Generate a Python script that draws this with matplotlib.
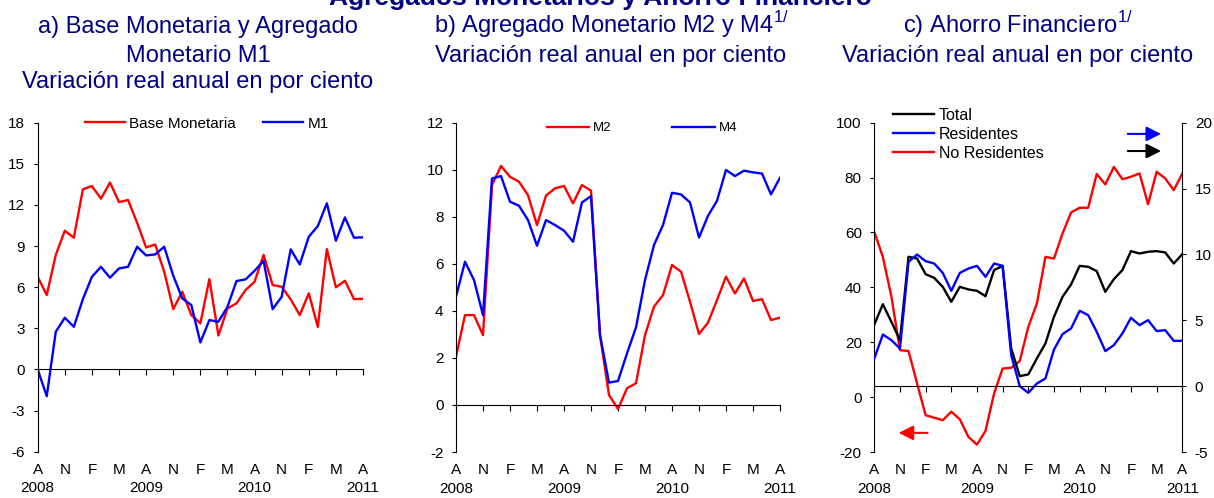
import matplotlib
matplotlib.use('Agg')
import matplotlib.pyplot as plt

plt.rcParams['font.family'] = 'Liberation Sans'
plt.rcParams['mathtext.fontset'] = 'custom'
plt.rcParams['mathtext.rm'] = 'Liberation Sans'
plt.rcParams['axes.unicode_minus'] = False

# meses: agosto 2008 - agosto 2011 (37 observaciones)
meses = ['A', 'N', 'F', 'M'] * 3 + ['A']
anios = {0: '2008', 4: '2009', 8: '2010', 12: '2011'}
etiquetas = [m + ('\n' + anios[i] if i in anios else '') for i, m in enumerate(meses)]

# a) Base monetaria y M1
base_monetaria = [6.76, 5.43, 8.35, 10.12, 9.61, 13.14, 13.38, 12.46, 13.63, 12.21,
                  12.36, 10.7, 8.9, 9.12, 7.13, 4.40, 5.67, 3.97, 3.36, 6.59,
                  2.48, 4.45, 4.82, 5.79, 6.40, 8.35, 6.16, 6.03, 5.11, 3.97,
                  5.55, 3.11, 8.78, 5.99, 6.47, 5.13, 5.16]
m1 = [0.0, -1.95, 2.75, 3.77, 3.11, 5.13, 6.76, 7.49, 6.69, 7.37,
      7.49, 8.95, 8.32, 8.39, 8.95, 6.84, 5.18, 4.70, 1.97, 3.60,
      3.48, 4.57, 6.45, 6.57, 7.20, 7.91, 4.40, 5.30, 8.76, 7.66,
      9.68, 10.46, 12.12, 9.39, 11.09, 9.61, 9.64]

# b) M2 y M4
m2 = [2.05, 3.82, 3.82, 2.97, 9.35, 10.16, 9.70, 9.49, 8.92, 7.65,
      8.90, 9.21, 9.31, 8.57, 9.35, 9.11, 2.97, 0.42, -0.17, 0.71,
      0.92, 2.97, 4.18, 4.67, 5.95, 5.67, 4.39, 3.02, 3.50, 4.46,
      5.45, 4.74, 5.38, 4.42, 4.50, 3.61, 3.71]
m4 = [4.60, 6.09, 5.31, 3.82, 9.63, 9.73, 8.64, 8.47, 7.86, 6.77,
      7.86, 7.65, 7.41, 6.94, 8.61, 8.88, 2.97, 0.95, 1.02, 2.19,
      3.30, 5.31, 6.80, 7.65, 9.02, 8.95, 8.61, 7.12, 8.04, 8.68,
      9.99, 9.73, 9.96, 9.89, 9.84, 8.95, 9.66]

# c) Ahorro financiero
total = [4.68, 6.22, 4.88, 3.49, 9.82, 9.69, 8.50, 8.22, 7.54, 6.40,
         7.54, 7.34, 7.24, 6.83, 8.81, 9.13, 2.86, 0.76, 0.89, 2.10,
         3.24, 5.26, 6.78, 7.72, 9.13, 9.06, 8.73, 7.16, 8.12, 8.81,
         10.25, 10.07, 10.20, 10.25, 10.15, 9.31, 10.02]
residentes = [2.10, 3.92, 3.49, 2.86, 9.44, 9.99, 9.49, 9.31, 8.60, 7.24,
              8.60, 8.93, 9.13, 8.30, 9.31, 9.13, 2.35, 0.0, -0.51, 0.20,
              0.58, 2.78, 3.95, 4.38, 5.72, 5.39, 4.12, 2.66, 3.11, 4.00,
              5.19, 4.63, 5.01, 4.18, 4.25, 3.44, 3.44]
no_residentes = [60.2, 51.1, 36.6, 17.1, 16.8, 5.0, -6.6, -7.5, -8.4, -5.3,
                 -8.1, -14.5, -17.3, -12.3, 1.3, 10.4, 10.7, 13.1, 25.6, 34.1,
                 51.1, 50.5, 59.6, 67.3, 69.0, 69.0, 81.3, 77.5, 83.9, 79.4,
                 80.3, 81.5, 70.3, 82.1, 79.7, 75.4, 81.5]

x = list(range(len(m1)))
ticks_x = list(range(0, 37, 3))
azul_titulo = '#000080'
lw = 1.7

W, H = 1214, 498
fig = plt.figure(figsize=(W / 100, H / 100), dpi=100)


def caja(x0, x1, y0, y1):
    return [x0 / W, 1 - y1 / H, (x1 - x0) / W, (y1 - y0) / H]


def etiquetas_x(ax):
    sec = ax.secondary_xaxis(0)
    sec.set_xticks(ticks_x, etiquetas)
    sec.tick_params(length=0, pad=8, labelsize=11)
    sec.spines['bottom'].set_visible(False)
    for t in sec.get_xticklabels():
        t.set_linespacing(1.4)


def formato(ax, ylim, yticks):
    ax.set_xlim(0, 36)
    ax.set_ylim(*ylim)
    ax.set_yticks(yticks)
    ax.spines['top'].set_visible(False)
    ax.spines['right'].set_visible(False)
    ax.spines['bottom'].set_position(('data', 0))
    ax.set_xticks(ticks_x)
    ax.tick_params(axis='x', direction='out', length=4, labelbottom=False)
    ax.tick_params(axis='y', direction='out', length=3, labelsize=11, pad=6)
    etiquetas_x(ax)


# panel a
ax1 = fig.add_axes(caja(37.7, 363, 122.7, 451.7))
ax1.plot(x, base_monetaria, color='red', lw=lw, label='Base Monetaria')
ax1.plot(x, m1, color='blue', lw=lw, label='M1')
formato(ax1, (-6, 18), range(-6, 19, 3))
ax1.legend(loc='center', bbox_to_anchor=(0.52, 0.997), ncol=2, frameon=False,
           fontsize=11, handlelength=2.6, columnspacing=1.8, handletextpad=0.3,
           borderpad=0)

# panel b
ax2 = fig.add_axes(caja(456, 780, 122.7, 452))
ax2.plot(x, m2, color='red', lw=lw, label='M2')
ax2.plot(x, m4, color='blue', lw=lw, label='M4')
formato(ax2, (-2, 12), range(-2, 13, 2))
ax2.legend(loc='center', bbox_to_anchor=(0.574, 0.983), ncol=2, frameon=False,
           fontsize=9.5, handlelength=3.2, columnspacing=4.6, handletextpad=0.3,
           borderpad=0)

# panel c
ax3 = fig.add_axes(caja(874.3, 1182.3, 122.7, 452))
ax3d = ax3.twinx()
l_nr, = ax3.plot(x, no_residentes, color='red', lw=lw, label='No Residentes')
l_t, = ax3d.plot(x, total, color='black', lw=lw, label='Total')
l_r, = ax3d.plot(x, residentes, color='blue', lw=lw, label='Residentes')
ax3.set_xlim(0, 36)
ax3.set_ylim(-20, 100)
ax3.set_yticks(range(-20, 101, 20))
ax3d.set_ylim(-5, 20)
ax3d.set_yticks(range(-5, 21, 5))
for s in ['top', 'right', 'bottom']:
    ax3.spines[s].set_visible(False)
for s in ['top', 'left']:
    ax3d.spines[s].set_visible(False)
ax3d.spines['bottom'].set_position(('data', 0))
ax3d.xaxis.set_visible(True)
ax3d.set_xticks(ticks_x)
ax3d.tick_params(axis='x', direction='out', length=4, labelbottom=False,
                 bottom=True, top=False)
ax3.set_xticks(ticks_x)
ax3.tick_params(axis='x', length=0, labelbottom=False)
ax3.tick_params(axis='y', direction='out', length=3, labelsize=11, pad=6)
ax3d.tick_params(axis='y', direction='out', length=3, labelsize=11, pad=6)
etiquetas_x(ax3)
ax3d.legend(handles=[l_t, l_r, l_nr], loc='upper left',
            bbox_to_anchor=(0.034, 1.07), frameon=False, fontsize=11.5,
            handlelength=2.6, handletextpad=0.3, labelspacing=0.25, borderpad=0)

flecha = dict(arrowstyle='-|>', lw=1.5, mutation_scale=22)
ax3d.annotate('', xy=(0.94, 0.966), xytext=(0.814, 0.966), xycoords='axes fraction',
              arrowprops=dict(flecha, color='blue'))
ax3d.annotate('', xy=(0.94, 0.914), xytext=(0.814, 0.914), xycoords='axes fraction',
              arrowprops=dict(flecha, color='black'))
ax3d.annotate('', xy=(0.07, 0.058), xytext=(0.182, 0.058), xycoords='axes fraction',
              arrowprops=dict(flecha, color='red'))

# titulos
fig.text(600 / W, 1 - 5 / H, 'Agregados Monetarios y Ahorro Financiero',
         ha='center', va='baseline', fontsize=19, fontweight='bold', color=azul_titulo)


def titulo(xc, lineas):
    for k, txt in enumerate(lineas):
        fig.text(xc / W, 1 - [33, 62, 88][k] / H, txt, ha='center', va='baseline',
                 fontsize=17, color=azul_titulo)


titulo(198, ['a) Base Monetaria y Agregado', 'Monetario M1',
             'Variación real anual en por ciento'])
titulo(611, [r'b) Agregado Monetario M2 y M4$^{\mathregular{1/}}$',
             'Variación real anual en por ciento'])
titulo(1018, [r'c) Ahorro Financiero$^{\mathregular{1/}}$',
              'Variación real anual en por ciento'])

fig.savefig('out.png', dpi=100)
